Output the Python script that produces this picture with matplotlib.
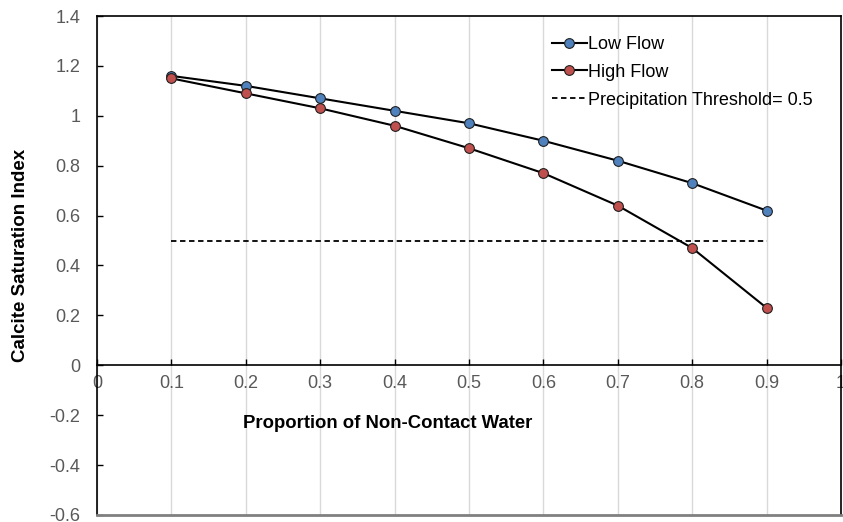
import matplotlib.pyplot as plt

plt.rcParams['font.family'] = ['Liberation Sans', 'DejaVu Sans']

x = [0.1, 0.2, 0.3, 0.4, 0.5, 0.6, 0.7, 0.8, 0.9]
low_flow = [1.16, 1.12, 1.07, 1.02, 0.97, 0.90, 0.82, 0.73, 0.62]
high_flow = [1.15, 1.09, 1.03, 0.96, 0.87, 0.77, 0.64, 0.47, 0.23]
threshold = [0.5] * len(x)

xticks = [0, 0.1, 0.2, 0.3, 0.4, 0.5, 0.6, 0.7, 0.8, 0.9, 1]
xticklabels = ['0', '0.1', '0.2', '0.3', '0.4', '0.5', '0.6', '0.7', '0.8', '0.9', '1']
yticks = [-0.6, -0.4, -0.2, 0, 0.2, 0.4, 0.6, 0.8, 1, 1.2, 1.4]
yticklabels = ['-0.6', '-0.4', '-0.2', '0', '0.2', '0.4', '0.6', '0.8', '1', '1.2', '1.4']

fig = plt.figure(figsize=(8.43, 5.22), dpi=100)
ax = fig.add_axes([0.1151, 0.0135, 0.8825, 0.9558])

ax.plot(x, low_flow, '-o', color='black', lw=1.5, ms=7, mfc='#4F81BD', mec='#1f1f1f',
        mew=0.8, label='Low Flow', zorder=3)
ax.plot(x, high_flow, '-o', color='black', lw=1.5, ms=7, mfc='#C0504D', mec='#1f1f1f',
        mew=0.8, label='High Flow', zorder=3)
ax.plot(x, threshold, color='black', lw=1.3, dashes=(3, 2),
        label='Precipitation Threshold= 0.5', zorder=2)

ax.set_xlim(0, 1)
ax.set_ylim(-0.6, 1.4)
ax.set_xticks(xticks)
ax.set_xticklabels(xticklabels)
ax.set_yticks(yticks)
ax.set_yticklabels(yticklabels)

ax.grid(axis='x', color='#d9d9d9', lw=1)
ax.set_axisbelow(True)

ax.spines['bottom'].set_position(('data', 0))
for s in ['left', 'right', 'top', 'bottom']:
    ax.spines[s].set_color('black')
    ax.spines[s].set_linewidth(1.2)
ax.axhline(-0.6, color='#808080', lw=2, clip_on=False, zorder=4)

ax.tick_params(axis='both', direction='in', length=4, width=1, colors='black',
               labelcolor='#595959', labelsize=13)
ax.tick_params(axis='x', pad=7)
ax.tick_params(axis='y', pad=12)
for lab in ax.get_xticklabels():
    lab.set_zorder(5)

fig.text(0.460, 0.188, 'Proportion of Non-Contact Water', ha='center', va='center',
         fontsize=13.3, fontweight='bold')
fig.text(0.024, 0.51, 'Calcite Saturation Index', ha='center', va='center',
         rotation=90, fontsize=13.5, fontweight='bold')

ax.legend(loc='upper left', bbox_to_anchor=(0.612, 0.960), frameon=False, fontsize=13,
          handlelength=1.9, handletextpad=0.1, labelspacing=0.6,
          borderaxespad=0, borderpad=0)

fig.savefig('out.png', dpi=100)
